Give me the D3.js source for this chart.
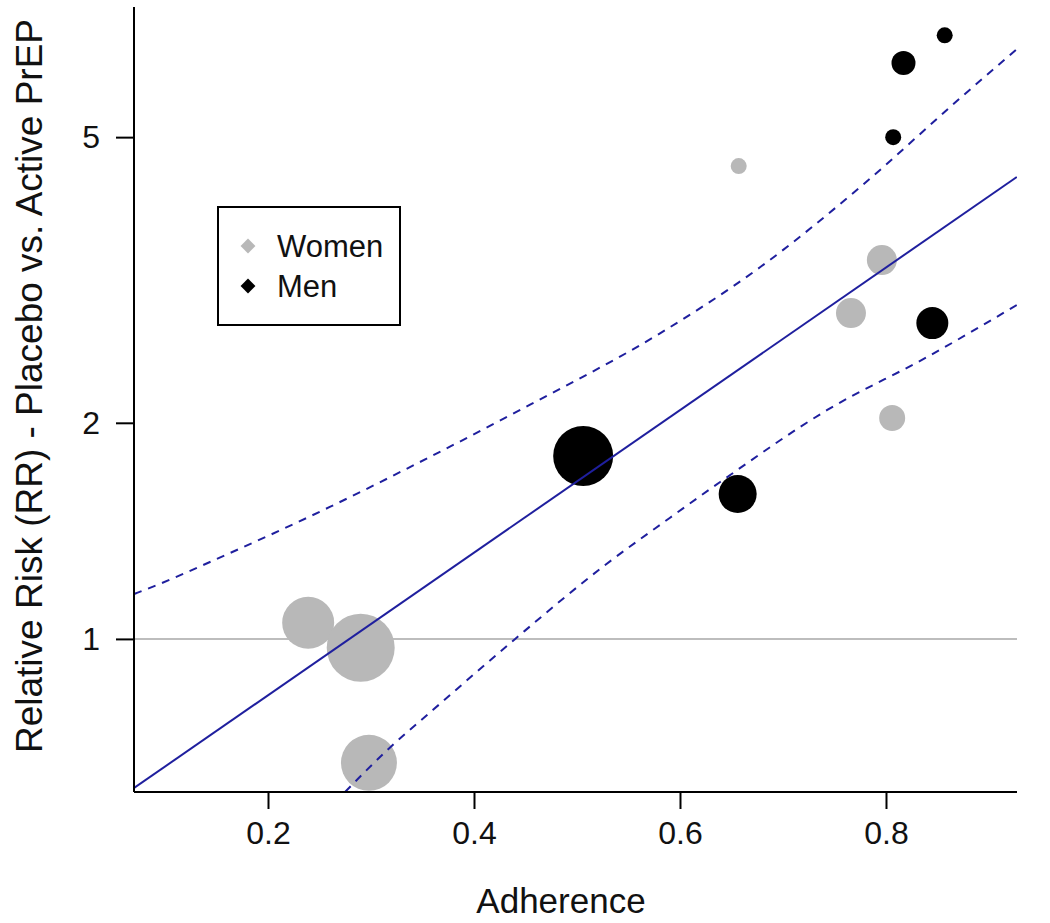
<!DOCTYPE html>
<html>
<head>
<meta charset="utf-8">
<script src="https://cdn.jsdelivr.net/npm/d3@7"></script>
<style>
  html, body { margin: 0; padding: 0; background: #fff; }
  svg { display: block; font-family: Arial, "Liberation Sans", sans-serif; }
</style>
</head>
<body>
<div id="chart"></div>
<script>
// ---------------- data ----------------
const groups = ["Women", "Men"];

const womenAdherence = [0.239, 0.290, 0.298, 0.657, 0.766, 0.796, 0.806];
const womenRR        = [1.053, 0.972, 0.672, 4.556, 2.844, 3.371, 2.031];
const womenWeight    = [2.6, 3.4, 2.8, 0.8, 1.5, 1.5, 1.3];

const menAdherence = [0.506, 0.656, 0.845, 0.807, 0.817, 0.857];
const menRR        = [1.798, 1.592, 2.754, 5.00, 6.34, 6.93];
const menWeight    = [3.0, 1.9, 1.6, 0.8, 1.2, 0.8];

// fitted meta-regression line (end points)
const fitAdherence = [0.07, 0.927];
const fitRR        = [0.620, 4.40];

// confidence band
const upperAdherence = [0.070, 0.0728, 0.163, 0.260, 0.357, 0.454, 0.581, 0.678, 0.775, 0.872, 0.927];
const upperRR        = [1.155, 1.159, 1.317, 1.527, 1.792, 2.118, 2.667, 3.296, 4.260, 5.666, 6.63];
const lowerAdherence = [0.2748, 0.318, 0.360, 0.440, 0.525, 0.590, 0.639, 0.743, 0.840, 0.927];
const lowerRR        = [0.612, 0.705, 0.796, 1.000, 1.260, 1.474, 1.654, 2.084, 2.470, 2.918];

const xTicks = [0.2, 0.4, 0.6, 0.8];
const yTicks = [1, 2, 5];
const refRR = 1;

const xTitle = "Adherence";
const yTitle = "Relative Risk (RR) - Placebo vs. Active PrEP";

// ---------------- layout ----------------
const W = 1050, H = 923;
const plot = { left: 134, right: 1017, top: 7, bottom: 792 };

const svg = d3.select("#chart").append("svg")
  .attr("width", W).attr("height", H);

const x = d3.scaleLinear().domain([0.0699, 0.9272]).range([plot.left, plot.right]);
const y = d3.scaleLog().domain([0.612, 7.59]).range([plot.bottom, plot.top]);
const r = d3.scaleLinear().domain([0, 1]).range([0, 10]);

const colors = { Women: "#b8b8b8", Men: "#000000" };
const lineColor = "#1f1f9e";

svg.append("defs").append("clipPath").attr("id", "clip")
  .append("rect")
  .attr("x", plot.left).attr("y", plot.top)
  .attr("width", plot.right - plot.left).attr("height", plot.bottom - plot.top);

const g = svg.append("g").attr("clip-path", "url(#clip)");

// reference line at RR = 1
g.append("line")
  .attr("x1", plot.left).attr("x2", plot.right)
  .attr("y1", y(refRR)).attr("y2", y(refRR))
  .attr("stroke", "#bdbdbd").attr("stroke-width", 2);

// points
const women = womenAdherence.map((a, i) => ({ a, rr: womenRR[i], w: womenWeight[i], grp: "Women" }));
const men = menAdherence.map((a, i) => ({ a, rr: menRR[i], w: menWeight[i], grp: "Men" }));

g.selectAll("circle.pt").data(women.concat(men)).enter().append("circle")
  .attr("class", "pt")
  .attr("cx", d => x(d.a))
  .attr("cy", d => y(d.rr))
  .attr("r", d => r(d.w))
  .attr("fill", d => colors[d.grp]);

// lines
const lineGen = d3.line().x(d => x(d[0])).y(d => y(d[1]));
const fit = fitAdherence.map((a, i) => [a, fitRR[i]]);
const upper = upperAdherence.map((a, i) => [a, upperRR[i]]);
const lower = lowerAdherence.map((a, i) => [a, lowerRR[i]]);

g.append("path").attr("d", lineGen(fit))
  .attr("fill", "none").attr("stroke", lineColor).attr("stroke-width", 2);

const curveGen = d3.line().x(d => x(d[0])).y(d => y(d[1])).curve(d3.curveMonotoneX);
[upper, lower].forEach(band => {
  g.append("path").attr("d", curveGen(band))
    .attr("fill", "none").attr("stroke", lineColor).attr("stroke-width", 2)
    .attr("stroke-dasharray", "8,7");
});

// axes
const xAxis = d3.axisBottom(x).tickValues(xTicks).tickSize(17).tickPadding(12)
  .tickFormat(d3.format(".1f"));
const gx = svg.append("g").attr("transform", `translate(0,${plot.bottom})`).call(xAxis);
gx.select(".domain").attr("d", `M${plot.left},0H${plot.right}`);

const yAxis = d3.axisLeft(y).tickValues(yTicks).tickSize(18).tickPadding(16)
  .tickFormat(d3.format("d"));
const gy = svg.append("g").attr("transform", `translate(${plot.left},0)`).call(yAxis);
gy.select(".domain").attr("d", `M0,${plot.top}V${plot.bottom}`);

[gx, gy].forEach(ax => {
  ax.selectAll(".domain, .tick line").attr("stroke", "#000").attr("stroke-width", 2);
  ax.selectAll(".tick text").attr("fill", "#111").style("font-size", "32px")
    .style("font-family", "Arial, 'Liberation Sans', sans-serif");
});

// axis titles
svg.append("text")
  .attr("x", 561).attr("y", 913)
  .attr("text-anchor", "middle").attr("fill", "#111")
  .style("font-size", "35px").text(xTitle);

svg.append("text")
  .attr("transform", `translate(42,386) rotate(-90)`)
  .attr("text-anchor", "middle").attr("fill", "#111")
  .style("font-size", "37px").text(yTitle);

// legend
const leg = svg.append("g");
leg.append("rect")
  .attr("x", 218).attr("y", 207).attr("width", 182).attr("height", 118)
  .attr("fill", "#fff").attr("stroke", "#000").attr("stroke-width", 2);

const diamond = d3.symbol().type(d3.symbolSquare).size(110);
groups.forEach((grp, i) => {
  const cy = 246 + i * 40;
  leg.append("path").attr("d", diamond())
    .attr("transform", `translate(248,${cy}) rotate(45)`)
    .attr("fill", colors[grp]);
  leg.append("text").attr("x", 277).attr("y", cy + 11)
    .attr("fill", "#111").style("font-size", "31px").text(grp);
});
</script>
</body>
</html>
